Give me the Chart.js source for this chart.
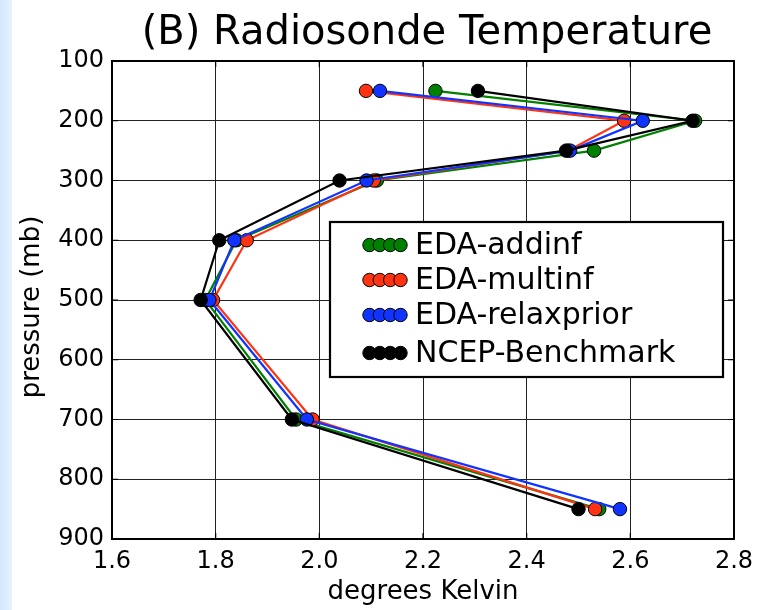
<!DOCTYPE html>
<html>
<head>
<meta charset="utf-8">
<script src="https://cdn.jsdelivr.net/npm/chart.js@4.4.1/dist/chart.umd.min.js"></script>
<style>
  html, body { margin: 0; padding: 0; background: #fff; }
  #wrap { position: relative; width: 763px; height: 610px; }
  #strip { position: absolute; left: 0; top: 0; width: 12px; height: 610px;
           background: linear-gradient(to right, #d2e7ff, #e6f2ff); }
  canvas { position: absolute; left: 0; top: 0; }
</style>
</head>
<body>
<div id="wrap"><div id="strip"></div><canvas id="c" width="763" height="610"></canvas></div>
<script>
const titleText = "(B) Radiosonde Temperature";
const xTitle = "degrees Kelvin";
const yTitle = "pressure (mb)";
const pressure = [150, 200, 250, 300, 400, 500, 700, 850];
const seriesNames = ["EDA-addinf", "EDA-multinf", "EDA-relaxprior", "NCEP-Benchmark"];
const addinf     = [2.224, 2.725, 2.530, 2.111, 1.840, 1.780, 1.955, 2.540];
const multinf    = [2.090, 2.588, 2.480, 2.105, 1.860, 1.795, 1.987, 2.532];
const relaxprior = [2.117, 2.624, 2.484, 2.091, 1.836, 1.788, 1.976, 2.580];
const benchmark  = [2.306, 2.720, 2.476, 2.039, 1.807, 1.771, 1.947, 2.500];
const xTicks = [1.6, 1.8, 2.0, 2.2, 2.4, 2.6, 2.8];
const yTicks = [100, 200, 300, 400, 500, 600, 700, 800, 900];
const colors = ["#008000", "#ff3311", "#1133ff", "#000000"];

const allSeries = [addinf, multinf, relaxprior, benchmark];
const FONT = "'DejaVu Sans', sans-serif";

const datasets = allSeries.map((vals, i) => ({
  label: seriesNames[i],
  data: vals.map((v, j) => ({ x: v, y: pressure[j] })),
  showLine: true,
  borderColor: colors[i],
  backgroundColor: colors[i],
  borderWidth: 2.2,
  pointRadius: 6.7,
  pointBorderColor: "#000",
  pointBorderWidth: 1,
  pointBackgroundColor: colors[i],
  order: 3 - i
}));

const edgeColor = (ctx, ticks) => {
  const v = ctx.tick ? ctx.tick.value : null;
  if (v === ticks[0] || v === ticks[ticks.length - 1]) return "rgba(0,0,0,0)";
  return "#222";
};

const framePlugin = {
  id: "frame",
  afterDraw(chart) {
    const { ctx, chartArea: a, scales } = chart;
    ctx.save();
    ctx.strokeStyle = "#000";
    ctx.lineWidth = 1.2;
    const L = 6;
    xTicks.forEach(v => {
      const x = scales.x.getPixelForValue(v);
      ctx.beginPath();
      ctx.moveTo(x, a.bottom); ctx.lineTo(x, a.bottom - L);
      ctx.moveTo(x, a.top); ctx.lineTo(x, a.top + L);
      ctx.stroke();
    });
    yTicks.forEach(v => {
      const y = scales.y.getPixelForValue(v);
      ctx.beginPath();
      ctx.moveTo(a.left, y); ctx.lineTo(a.left + L, y);
      ctx.moveTo(a.right, y); ctx.lineTo(a.right - L, y);
      ctx.stroke();
    });
    ctx.lineWidth = 2;
    ctx.strokeRect(a.left, a.top, a.right - a.left, a.bottom - a.top);

    ctx.fillStyle = "#000";
    ctx.textAlign = "center";
    ctx.textBaseline = "alphabetic";
    ctx.font = "40px " + FONT;
    ctx.fillText(titleText, (a.left + a.right) / 2 + 4, 44);
    ctx.font = "26px " + FONT;
    ctx.fillText(xTitle, (a.left + a.right) / 2, 599);
    ctx.save();
    ctx.translate(39, (a.top + a.bottom) / 2 + 7);
    ctx.rotate(-Math.PI / 2);
    ctx.fillText(yTitle, 0, 0);
    ctx.restore();

    const bx = 330, by = 222, bw = 393, bh = 155;
    ctx.fillStyle = "#fff";
    ctx.fillRect(bx, by, bw, bh);
    ctx.lineWidth = 2.2;
    ctx.strokeStyle = "#000";
    ctx.strokeRect(bx, by, bw, bh);
    const rowY = [245, 280, 315, 353];
    const mx = [369.5, 379.8, 390.2, 400.5];
    seriesNames.forEach((name, i) => {
      const y = rowY[i];
      ctx.strokeStyle = colors[i];
      ctx.lineWidth = 2;
      ctx.beginPath(); ctx.moveTo(mx[0], y); ctx.lineTo(mx[3], y); ctx.stroke();
      mx.forEach(x => {
        ctx.beginPath();
        ctx.arc(x, y, 6.7, 0, Math.PI * 2);
        ctx.fillStyle = colors[i];
        ctx.fill();
        ctx.lineWidth = 1;
        ctx.strokeStyle = "#000";
        ctx.stroke();
      });
      ctx.fillStyle = "#000";
      ctx.font = "30px " + FONT;
      ctx.textAlign = "left";
      ctx.textBaseline = "middle";
      ctx.fillText(name, 415, y + 1);
    });
    ctx.restore();
  }
};

new Chart(document.getElementById("c"), {
  type: "scatter",
  data: { datasets },
  plugins: [framePlugin],
  options: {
    responsive: false,
    animation: false,
    devicePixelRatio: 1,
    layout: { padding: { left: 0, right: 29, top: 61, bottom: 0 } },
    plugins: { legend: { display: false }, tooltip: { enabled: false }, title: { display: false } },
    scales: {
      x: {
        type: "linear",
        min: xTicks[0], max: xTicks[xTicks.length - 1],
        afterFit(s) { s.height = 71; },
        afterBuildTicks(s) { s.ticks = xTicks.map(v => ({ value: v })); },
        border: { display: false },
        grid: {
          drawTicks: false,
          lineWidth: 1,
          color: ctx => edgeColor(ctx, xTicks),
          borderDash: [2, 8]
        },
        ticks: {
          padding: 8,
          color: "#000",
          font: { family: FONT, size: 24 },
          callback: v => v.toFixed(1)
        }
      },
      y: {
        type: "linear",
        reverse: true,
        min: yTicks[0], max: yTicks[yTicks.length - 1],
        afterFit(s) { s.width = 112; },
        afterBuildTicks(s) { s.ticks = yTicks.map(v => ({ value: v })); },
        border: { display: false },
        grid: {
          drawTicks: false,
          lineWidth: 1,
          color: ctx => edgeColor(ctx, yTicks),
          borderDash: [2, 8]
        },
        ticks: {
          padding: 8,
          color: "#000",
          font: { family: FONT, size: 24 },
          callback: v => String(v)
        }
      }
    }
  }
});
</script>
</body>
</html>
